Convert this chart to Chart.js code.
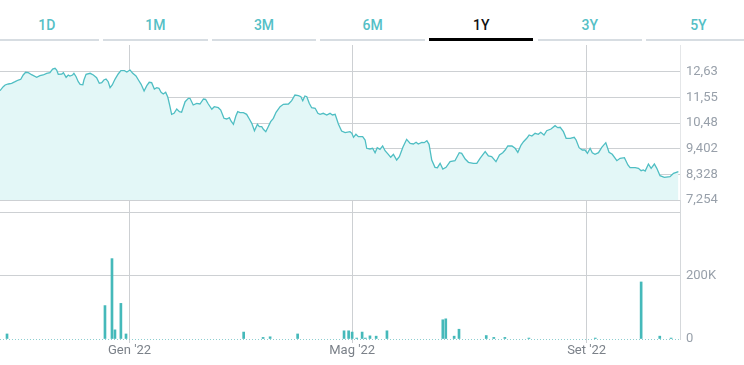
<!DOCTYPE html>
<html>
<head>
<meta charset="utf-8">
<script src="https://cdn.jsdelivr.net/npm/chart.js@4.4.0/dist/chart.umd.min.js"></script>
<style>
  html, body { margin:0; padding:0; background:#fff; }
  body { width:744px; height:365px; position:relative; overflow:hidden; font-family: Roboto, "Noto Sans", sans-serif; }
  .tab { position:absolute; top:0; height:41px; }
  .tab .lbl { position:absolute; left:0; right:0; top:15px; height:20px; line-height:20px; text-align:center; font-size:14px; font-weight:500; color:#55bfc6; }
  .tab .bar { position:absolute; left:0; right:0; top:39px; height:2px; background:#d7dde2; }
  .tab.active .lbl { color:#111; }
  .tab.active .bar { background:#000; top:38px; height:3px; }
  #cPrice { position:absolute; left:0; top:0; }
  #cVol { position:absolute; left:0; top:200px; }
</style>
</head>
<body>
<div id="tabs"></div>
<canvas id="cPrice" width="744" height="215"></canvas>
<canvas id="cVol" width="744" height="165"></canvas>
<script>
// ---- data ----
const tabLabels = ["1D", "1M", "3M", "6M", "1Y", "3Y", "5Y"];
const activeTab = "1Y";

// trading-session index (0 = first session of the 1Y window)
const priceDay = [0,1.2,1.9,3.1,4.3,5.6,6.8,7.7,8.6,9.5,
10.5,11.7,13.6,14.8,16.0,17.3,18.5,19.5,20.4,21.0,
21.6,22.9,23.5,24.5,25.3,25.9,26.9,27.4,28.2,29.0,
29.7,30.7,31.1,31.9,33.4,34.6,35.8,36.8,37.7,38.5,
39.3,40.1,40.8,41.6,42.6,43.8,44.8,46.1,47.0,48.2,
49.2,50.4,51.3,52.3,53.4,54.4,55.3,56.2,57.2,58.1,
58.9,59.7,60.5,61.4,62.2,63.0,63.6,64.5,65.5,66.5,
67.3,68.6,69.8,70.4,71.6,72.9,74.1,75.4,76.2,77.2,
78.5,79.4,80.9,81.8,83.0,84.0,85.0,85.6,86.5,87.4,
88.1,89.0,90.2,91.4,92.4,93.3,94.3,95.4,96.1,97.0,
97.6,98.5,99.4,100.3,101.3,102.3,103.8,105.0,106.9,108.1,
109.3,110.6,111.5,112.2,113.0,113.7,114.6,115.5,116.8,117.8,
118.6,119.8,121.1,122.3,123.2,124.2,125.4,126.6,127.9,129.7,
130.4,131.0,131.9,132.8,134.4,135.3,135.9,137.1,138.1,139.0,
139.8,140.8,141.8,142.7,143.9,144.8,145.8,147.0,148.0,149.3,
150.7,152.0,153.2,154.2,155.0,156.3,157.2,158.2,159.0,160.0,
161.2,162.1,163.1,164.1,165.3,166.8,168.6,170.2,171.1,172.4,
173.6,175.4,176.7,177.9,179.8,181.0,182.2,183.8,185.1,186.3,
187.2,188.2,189.7,190.9,191.9,193.1,194.0,195.2,196.1,197.1,
198.3,199.5,200.4,201.6,202.6,204.2,205.7,206.7,207.6,208.8,
209.8,211.3,212.8,213.5,214.6,215.8,216.8,217.7,218.7,219.5,
220.5,221.8,223.0,224.5,225.7,226.9,228.6,229.8,231.4,232.7,
233.5,235.4,236.6,237.6,238.4,239.1,240.3,241.3,242.5,243.4,
244.6,246.2,248.3,249.6,251.4];

const priceClose = [11.845,12.013,12.084,12.126,12.155,12.223,12.294,12.323,12.504,12.617,
12.601,12.517,12.407,12.475,12.504,12.575,12.601,12.756,12.785,12.714,
12.533,12.546,12.601,12.407,12.504,12.462,12.504,12.575,12.433,12.223,
12.113,12.097,12.294,12.533,12.575,12.504,12.391,12.155,12.181,12.294,
12.336,12.223,11.971,12.084,12.323,12.546,12.685,12.685,12.630,12.714,
12.575,12.462,12.294,12.113,11.832,12.055,12.197,12.181,11.916,11.971,
11.945,11.777,11.706,11.777,11.567,11.173,10.853,10.895,11.076,10.963,
10.937,11.383,11.525,11.525,11.244,11.315,11.286,11.496,11.483,11.286,
11.063,11.173,11.131,11.034,10.685,10.656,10.711,10.572,10.433,10.782,
10.963,10.921,10.921,10.853,10.656,10.475,10.165,10.433,10.333,10.333,
10.223,10.123,10.333,10.543,10.685,10.937,11.173,11.273,11.286,11.425,
11.664,11.635,11.593,11.425,11.622,11.593,11.315,11.131,11.105,10.895,
10.853,10.895,10.824,10.895,10.824,10.853,10.446,10.152,10.081,10.123,
10.055,9.887,10.013,9.913,9.913,9.774,9.425,9.396,9.425,9.241,
9.451,9.383,9.522,9.325,9.173,9.047,9.173,8.934,9.073,9.467,
9.803,9.635,9.606,9.677,9.606,9.677,9.661,9.745,9.593,8.934,
8.627,8.611,8.795,8.556,8.627,8.863,8.905,9.241,9.215,8.976,
8.837,8.795,8.795,9.005,9.283,9.102,9.073,8.863,9.144,9.241,
9.354,9.522,9.522,9.425,9.257,9.564,9.703,9.845,9.984,9.942,
10.055,10.013,10.097,9.984,10.165,10.236,10.375,10.291,10.307,10.123,
9.845,9.845,9.887,9.774,9.451,9.354,9.354,9.215,9.425,9.241,
9.173,9.241,9.467,9.661,9.257,9.173,8.905,9.005,9.031,8.724,
8.611,8.611,8.585,8.485,8.514,8.472,8.766,8.585,8.766,8.585,
8.275,8.207,8.233,8.375,8.443];

const volDay = [2.6,38.9,41.5,42.6,44.8,46.7,90.3,97.5,100.1,110.3,127.5,129.2,130.5,132.2,134.2,135.4,137.1,139.4,143.4,164.1,165.2,168.3,170.1,180.2,183.0,187.1,196.0,220.6,237.6,244.5,248.7];
const volAmount = [16000,106000,255000,29000,113000,16000,22000,5000,7000,16000,26000,26000,22000,3000,22000,3000,10000,9000,26000,61000,64000,9000,31000,11000,5000,5000,3000,3000,181000,9000,3000];

const priceTickValues = [7.254, 8.328, 9.402, 10.48, 11.55, 12.63];
const priceTickLabels = ["7,254", "8,328", "9,402", "10,48", "11,55", "12,63"];
const volTickValues = [0, 200000, 400000];
const volTickLabels = ["0", "200K", ""];
const monthTickDays = [48, 130.5, 217.4];
const monthTickLabels = ["Gen '22", "Mag '22", "Set '22"];
const sessionCount = 252;

// ---- tabs ----
const tabsEl = document.getElementById('tabs');
tabLabels.forEach((t, i) => {
  const d = document.createElement('div');
  d.className = 'tab' + (t === activeTab ? ' active' : '');
  d.style.left = (-5.5 + i * 108.6) + 'px';
  d.style.width = '104.6px';
  d.innerHTML = '<div class="lbl">' + t + '</div><div class="bar"></div>';
  tabsEl.appendChild(d);
});

// ---- charts ----
const GRID = '#cdd0d3';
const TEAL = '#4fbec3';
const tickFont = { family: 'Roboto', size: 13 };

function fixedXTicks(scale) {
  scale.ticks = monthTickDays.map(v => ({ value: v }));
}
function noVertPad(s) { s.paddingTop = 0; s.paddingBottom = 0; }

new Chart(document.getElementById('cPrice'), {
  type: 'line',
  data: {
    datasets: [{
      data: priceDay.map((d, i) => ({ x: d, y: priceClose[i] })),
      borderColor: TEAL,
      borderWidth: 1.3,
      backgroundColor: '#e3f7f7',
      fill: 'start',
      pointRadius: 0,
      tension: 0
    }]
  },
  options: {
    animation: false,
    responsive: false,
    events: [],
    layout: { padding: { top: 45, bottom: 15, left: 0, right: 0 } },
    plugins: { legend: { display: false }, tooltip: { enabled: false } },
    scales: {
      x: {
        type: 'linear', min: 0, max: sessionCount,
        afterBuildTicks: fixedXTicks,
        afterFit: s => { s.height = 0; },
        ticks: { display: false },
        grid: { color: GRID, drawTicks: false },
        border: { display: false }
      },
      y: {
        position: 'right',
        min: 7.254, max: 13.764,
        afterBuildTicks: s => { s.ticks = priceTickValues.map(v => ({ value: v })); },
        afterFit: s => { s.width = 64; noVertPad(s); },
        ticks: {
          padding: 6, color: '#98a0aa', font: tickFont,
          callback: (v, i) => priceTickLabels[i]
        },
        grid: { color: GRID, drawTicks: false },
        border: { display: true, color: '#e4e6e8' }
      }
    }
  }
});

new Chart(document.getElementById('cVol'), {
  type: 'bar',
  data: {
    datasets: [{
      data: volDay.map((d, i) => ({ x: d, y: volAmount[i] })),
      backgroundColor: '#45b9ba',
      barThickness: 2,
      borderWidth: 0
    }]
  },
  options: {
    animation: false,
    responsive: false,
    events: [],
    layout: { padding: { top: 0, bottom: 0, left: 0, right: 0 } },
    plugins: { legend: { display: false }, tooltip: { enabled: false } },
    scales: {
      x: {
        type: 'linear', min: 0, max: sessionCount, offset: false,
        afterBuildTicks: fixedXTicks,
        afterFit: s => { s.height = 26; },
        ticks: {
          color: '#7b8189', font: tickFont, padding: 0, maxRotation: 0,
          callback: (v, i) => monthTickLabels[i]
        },
        grid: { color: GRID, drawTicks: true, tickLength: 4, offset: false },
        border: { display: false }
      },
      y: {
        position: 'right',
        min: 0, max: 441000,
        afterBuildTicks: s => { s.ticks = volTickValues.map(v => ({ value: v })); },
        afterFit: s => { s.width = 64; noVertPad(s); },
        ticks: {
          padding: 6, color: '#98a0aa', font: tickFont,
          callback: (v, i) => volTickLabels[i]
        },
        grid: {
          drawTicks: false,
          color: ctx => (ctx.tick && ctx.tick.value === 0) ? '#8ecfd1' : GRID,
        },
        border: {
          display: true, color: '#d5d8db',
          dash: ctx => (ctx.tick && ctx.tick.value === 0) ? [1, 2] : []
        }
      }
    }
  }
});
</script>
</body>
</html>
